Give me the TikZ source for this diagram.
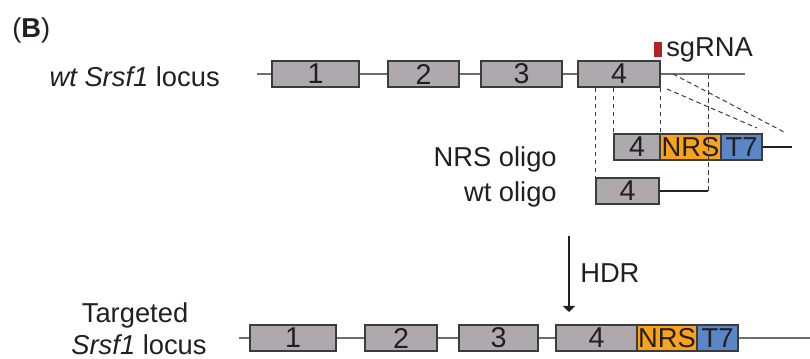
\documentclass[tikz,border=0pt]{standalone}
\usepackage{fontspec}
\setmainfont{Liberation Sans}
\usetikzlibrary{arrows.meta}
\definecolor{exgray}{RGB}{173,169,173}
\definecolor{nrsorange}{RGB}{250,163,26}
\definecolor{tsblue}{RGB}{91,134,197}
\definecolor{sgred}{RGB}{178,32,40}
\definecolor{txt}{RGB}{35,31,32}
\definecolor{intron}{RGB}{110,110,110}
\definecolor{edge}{RGB}{60,60,60}
\begin{document}
\begin{tikzpicture}[x=0.75pt,y=-0.75pt,
  every node/.style={text=txt,font=\fontsize{20.5}{24}\selectfont},
  box/.style={draw=edge,line width=0.9pt,inner sep=0pt,minimum height=26*0.75pt,minimum width=#1*0.75pt,anchor=center},
  exon/.style={box=#1,fill=exgray,font=\fontsize{21.5}{24}\selectfont},
  nrs/.style={box=#1,fill=nrsorange},
  tseven/.style={box=#1,fill=tsblue},
  intr/.style={draw=intron,line width=1.1pt},
  dsh/.style={draw=edge,line width=0.75pt,dash pattern=on 3.5pt off 2.5pt},
  lbl/.style={inner sep=0pt}]
\useasboundingbox (0,0) rectangle (810,359);
% top locus
\coordinate (ts) at (257,74);
\coordinate (te) at (745,74);
\draw[intr] (ts) -- (te);
\node[exon=87] (t1) at (315.5,74) {1};
\node[exon=71] (t2) at (423.5,74) {2};
\node[exon=81] (t3) at (521.5,74) {3};
\node[exon=82] (t4) at (619,74) {4};
\fill[sgred] (654,42) rectangle (662,57);
\node[lbl,anchor=base west] (sg) at (666,57) {sgRNA};
% NRS oligo
\coordinate (ne) at (792,147);
\node[exon=46] (n4) at (637,147) {4};
\node[nrs=61] (nN) at (690.5,147) {NRS};
\node[tseven=41] (nT) at (741.5,147) {T7};
\draw[draw=txt,line width=1pt] (nT.east) -- (ne);
% wt oligo
\node[exon=63] (w4) at (627.5,191) {4};
\coordinate (we) at (708,191);
\draw[draw=txt,line width=1pt] (w4.east) -- (we);
% dashed guides
\draw[dsh] (w4.north west |- t4.south) -- (w4.north west);
\draw[dsh] (n4.north west |- t4.south) -- (n4.north west);
\draw[dsh] (t4.south east) -- (n4.north east);
\draw[dsh] (we |- te) -- (we);
\coordinate (d1a) at (673,74);
\coordinate (d1b) at (784,132);
\coordinate (d2a) at (667,89);
\coordinate (d2b) at (757,128);
\draw[dsh] (d1a) -- (d1b);
\draw[dsh] (d2a) -- (d2b);
% labels
\node[lbl,anchor=base west] (B) at (12,38) {(\textbf{B})};
\node[lbl,anchor=base east] (wtl) at (220,87) {\itshape wt Srsf1\upshape{} locus};
\node[lbl,anchor=base east] (nol) at (557,167) {NRS oligo};
\node[lbl,anchor=base east] (wol) at (557,202) {wt oligo};
% HDR arrow
\coordinate (ha) at (569,236);
\coordinate (hb) at (569,312);
\draw[draw=txt,line width=1pt,-{Triangle[width=9pt,length=4.5pt]}] (ha) -- (hb);
\node[lbl,anchor=base west] (hdr) at (580,283) {HDR};
% targeted locus
\coordinate (bs) at (239,338);
\coordinate (be) at (810,338);
\draw[intr] (bs) -- (be);
\node[exon=86] (b1) at (293,338) {1};
\node[exon=72] (b2) at (401,338) {2};
\node[exon=79] (b3) at (498.5,338) {3};
\node[exon=81] (b4) at (596.5,338) {4};
\node[nrs=60] (bN) at (667,338) {NRS};
\node[tseven=41] (bT) at (717.5,338) {T7};
\node[lbl,anchor=base] (tg1) at (135,323) {Targeted};
\node[lbl,anchor=base] (tg2) at (139,355) {\itshape Srsf1\upshape{} locus};
\end{tikzpicture}
\end{document}
